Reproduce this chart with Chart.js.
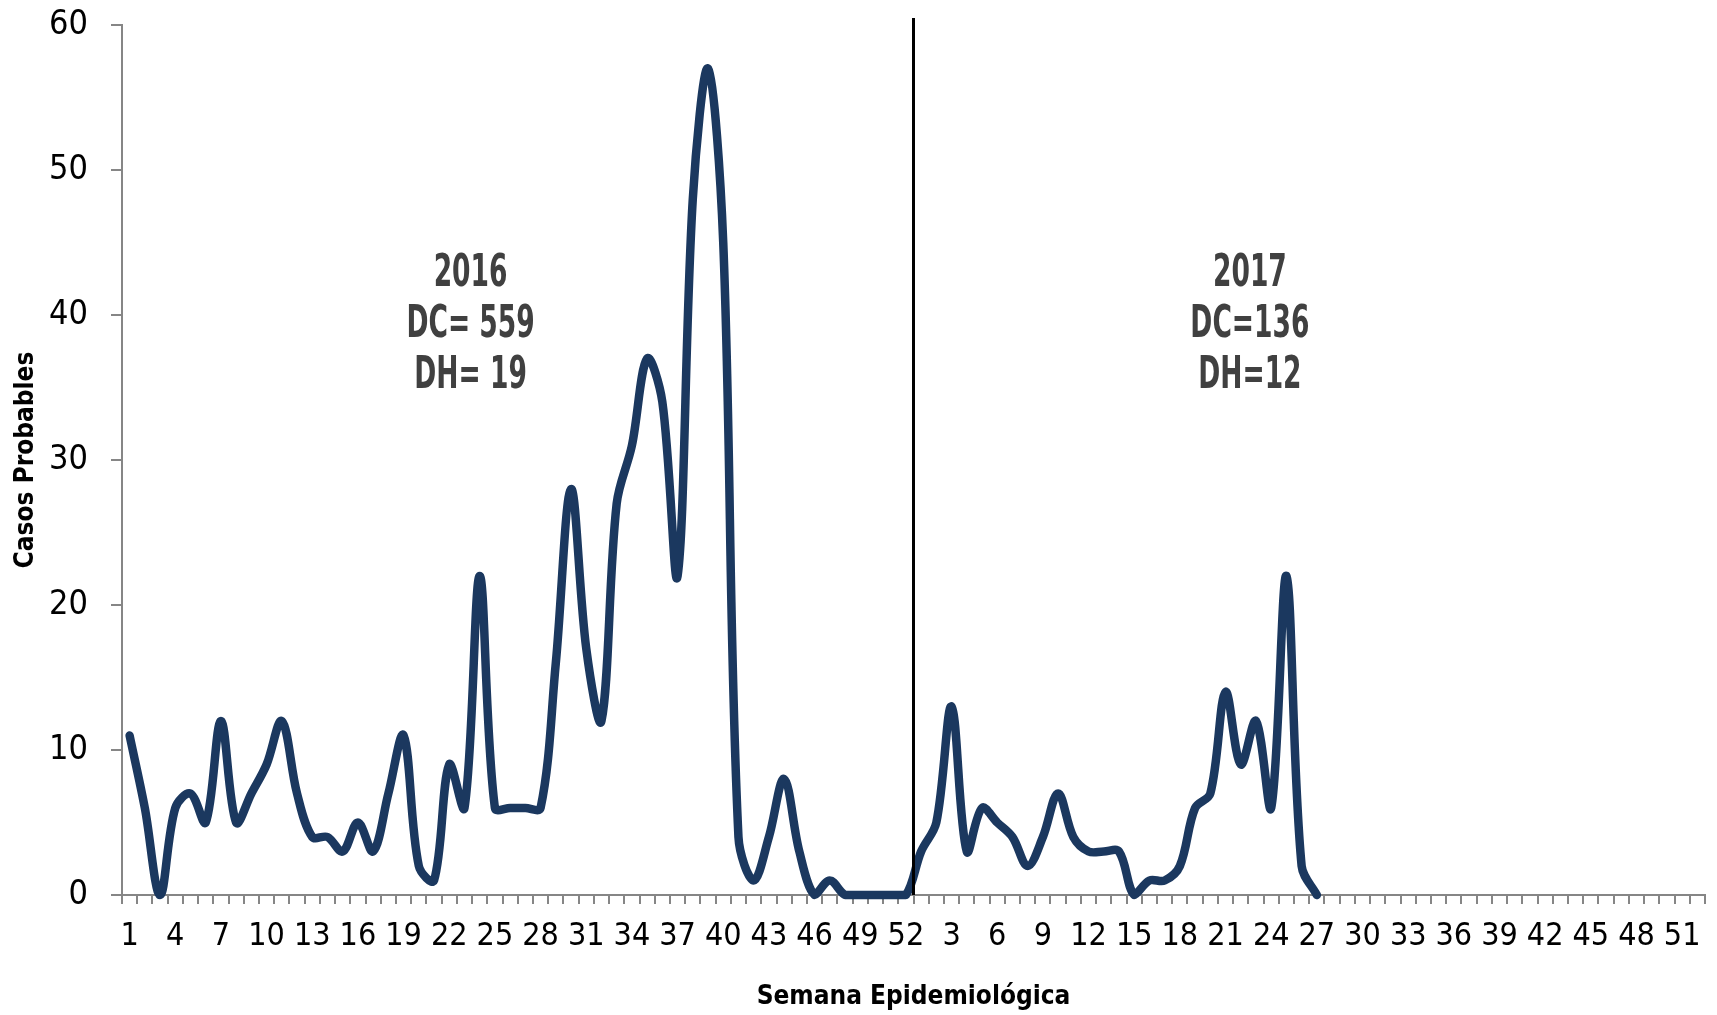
<!DOCTYPE html>
<html>
<head>
<meta charset="utf-8">
<script src="https://cdn.jsdelivr.net/npm/chart.js@4.4.0/dist/chart.umd.min.js"></script>
<style>
  html, body { margin: 0; padding: 0; background: #fff; }
  #wrap { width: 1717px; height: 1015px; }
</style>
</head>
<body>
<div id="wrap"><canvas id="chart"></canvas></div>
<script>
// Semanas epidemiológicas (2016 completo, 2017 completo en el eje)
const semanas2016 = [1,2,3,4,5,6,7,8,9,10,11,12,13,14,15,16,17,18,19,20,21,22,23,24,25,26,
  27,28,29,30,31,32,33,34,35,36,37,38,39,40,41,42,43,44,45,46,47,48,49,50,51,52];
const semanas2017 = [1,2,3,4,5,6,7,8,9,10,11,12,13,14,15,16,17,18,19,20,21,22,23,24,25,26,
  27,28,29,30,31,32,33,34,35,36,37,38,39,40,41,42,43,44,45,46,47,48,49,50,51,52];

// Casos probables por semana
const casos2016 = [11,6,0,6,7,5,12,5,7,9,12,7,4,4,3,5,3,7,11,2,1,9,6,22,6,6,
  6,6,16,28,17,12,27,31,37,34,22,48,57,45,4,1,4,8,3,0,1,0,0,0,0,0];
const casos2017 = [3,5,13,3,6,5,4,2,4,7,4,3,3,3,0,1,1,2,6,7,14,9,12,6,22,2,0];

// Etiquetas dentro del gráfico
const textos2016 = ['2016', 'DC= 559', 'DH= 19'];
const textos2017 = ['2017', 'DC=136', 'DH=12'];

// Eje Y
const yMin = 0, yMax = 60, yPaso = 10;

const FUENTE = "'DejaVu Sans Condensed', 'Liberation Sans', sans-serif";
const GRIS = '#868686';

const etiquetas = semanas2016.map(String).concat(semanas2017.map(String));
const datos = casos2016.concat(casos2017);

// linea divisoria entre años + textos
const separador = {
  id: 'separador',
  afterDatasetsDraw(chart) {
    const { ctx, chartArea, scales: { x, y } } = chart;
    const px = x.getPixelForValue(semanas2016.length - 0.5);
    ctx.save();
    ctx.strokeStyle = '#000';
    ctx.lineWidth = 3;
    ctx.beginPath();
    ctx.moveTo(px, chartArea.top - 7);
    ctx.lineTo(px, chartArea.bottom);
    ctx.stroke();
    ctx.restore();

    // texto angosto, como en el original
    const esc = 0.67;
    [[textos2016, 22.4], [textos2017, 73.6]].forEach(([lineas, idx]) => {
      const cx = x.getPixelForValue(idx);
      const y0 = y.getPixelForValue(42.8);
      lineas.forEach((t, i) => {
        ctx.save();
        ctx.translate(cx, y0 + i * 51);
        ctx.scale(esc, 1);
        ctx.fillStyle = '#404040';
        ctx.font = 'bold 44px ' + FUENTE;
        ctx.textAlign = 'center';
        ctx.textBaseline = 'middle';
        ctx.fillText(t, 0, 0);
        ctx.restore();
      });
    });
  }
};

new Chart(document.getElementById('chart'), {
  type: 'line',
  data: {
    labels: etiquetas,
    datasets: [{
      data: datos,
      borderColor: '#1b385f',
      borderWidth: 8.5,
      borderJoinStyle: 'round',
      borderCapStyle: 'round',
      tension: 0.35,
      pointRadius: 0,
      fill: false,
      clip: false
    }]
  },
  options: {
    responsive: true,
    maintainAspectRatio: false,
    animation: false,
    layout: { padding: { top: 25, right: 12, left: 0, bottom: 0 } },
    plugins: { legend: { display: false }, tooltip: { enabled: false } },
    scales: {
      x: {
        offset: true,
        afterFit: s => { s.height = 120; },
        grid: { offset: true, drawOnChartArea: false, tickLength: 9, color: GRIS, lineWidth: 2 },
        border: { color: GRIS, width: 2 },
        ticks: {
          autoSkip: false,
          maxRotation: 0,
          padding: 13,
          color: '#000',
          font: { family: FUENTE, size: 32 },
          callback: function (val, i) { return i % 3 === 0 ? this.getLabelForValue(val) : ''; }
        },
        title: {
          display: true,
          text: 'Semana Epidemiológica',
          color: '#000',
          font: { family: FUENTE, size: 26, weight: 'bold' },
          padding: { top: 0, bottom: 2 }
        }
      },
      y: {
        min: yMin,
        max: yMax,
        afterFit: s => { s.width = 122; s.paddingTop = 0; s.paddingBottom = 0; },
        grid: { drawOnChartArea: false, tickLength: 11, color: GRIS, lineWidth: 2 },
        border: { color: GRIS, width: 2 },
        ticks: {
          stepSize: yPaso,
          padding: 23,
          color: '#000',
          font: { family: FUENTE, size: 34 }
        },
        title: {
          display: true,
          text: 'Casos Probables',
          color: '#000',
          font: { family: FUENTE, size: 26, weight: 'bold' },
          padding: { top: 11, bottom: 0 }
        }
      }
    }
  },
  plugins: [separador]
});
</script>
</body>
</html>
